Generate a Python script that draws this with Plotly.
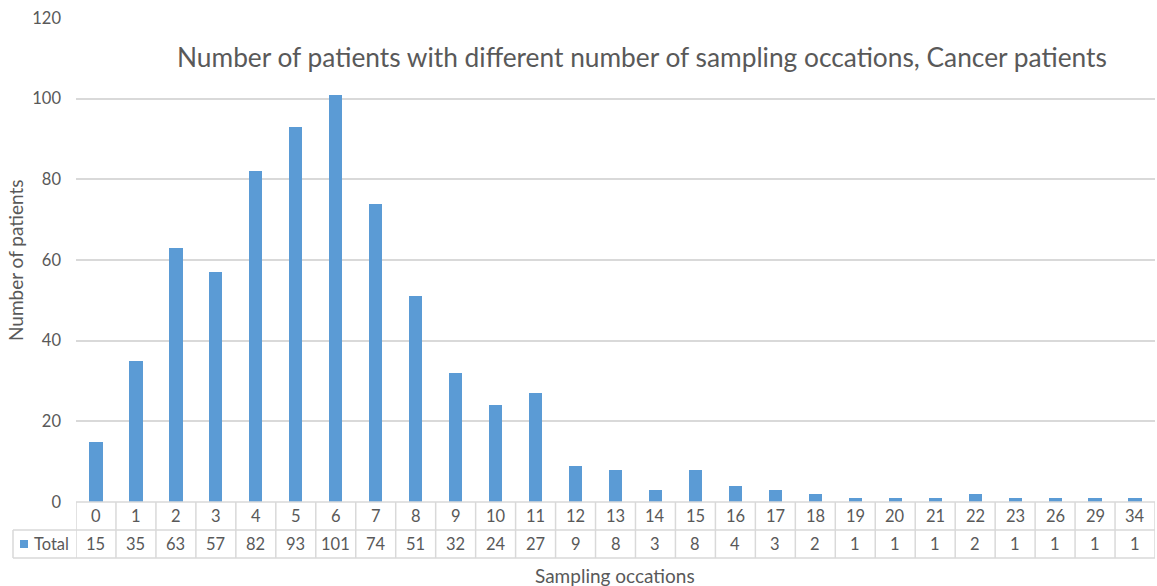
import plotly.graph_objects as go

categories = ["0", "1", "2", "3", "4", "5", "6", "7", "8", "9", "10", "11", "12", "13",
              "14", "15", "16", "17", "18", "19", "20", "21", "22", "23", "26", "29", "34"]
totals = [15, 35, 63, 57, 82, 93, 101, 74, 51, 32, 24, 27, 9, 8, 3, 8, 4, 3, 2, 1, 1, 1, 2, 1, 1, 1, 1]
y_ticks = [0, 20, 40, 60, 80, 100, 120]

title_text = "Number of patients with different number of sampling occations, Cancer patients"
series_name = "Total"
x_title = "Sampling occations"
y_title = "Number of patients"

W, H = 1157, 586
ML, MR, MT, MB = 76, 2, 18, 84
PW = W - ML - MR
PH = H - MT - MB

BAR = "#5b9bd5"
GRID = "#d9d9d9"
TXT = "#595959"
FONT = "Lato"

def py(px):  # pixel y (from top) -> paper y
    return (H - MB - px) / PH

def pxx(px):  # pixel x -> paper x
    return (px - ML) / PW

idx = list(range(len(categories)))

fig = go.Figure()
fig.add_trace(go.Bar(x=idx, y=totals, width=0.33, marker=dict(color=BAR, line=dict(width=0)),
                     name=series_name, showlegend=False, hoverinfo="skip"))

shapes = []
annotations = []
n = len(categories)
row1_top, row1_bot, row2_bot = py(502), py(530), py(558)
for yy in [row1_top, row1_bot, row2_bot]:
    shapes.append(dict(type="line", xref="x", yref="paper", x0=-0.5, x1=n - 0.5, y0=yy, y1=yy,
                       line=dict(color=GRID, width=1.5)))
shapes.append(dict(type="line", xref="paper", yref="paper", x0=pxx(13), x1=0, y0=row1_bot, y1=row1_bot,
                   line=dict(color=GRID, width=1.5)))
shapes.append(dict(type="line", xref="paper", yref="paper", x0=pxx(13), x1=0, y0=row2_bot, y1=row2_bot,
                   line=dict(color=GRID, width=1.5)))
shapes.append(dict(type="line", xref="paper", yref="paper", x0=pxx(13), x1=pxx(13), y0=row1_bot, y1=row2_bot,
                   line=dict(color=GRID, width=1.5)))
for i in range(n + 1):
    shapes.append(dict(type="line", xref="x", yref="paper", x0=i - 0.5, x1=i - 0.5, y0=row1_top, y1=row2_bot,
                       line=dict(color=GRID, width=1.5)))
shapes.append(dict(type="rect", xref="paper", yref="paper", x0=pxx(20), x1=pxx(28), y0=py(540), y1=py(548),
                   fillcolor=BAR, line=dict(width=0)))

def ann(x, y, text, size, xref="paper", xanchor="center", angle=0):
    return dict(x=x, y=y, xref=xref, yref="paper", text=text, showarrow=False,
                xanchor=xanchor, yanchor="middle", textangle=angle,
                font=dict(family=FONT, size=size, color=TXT))

for i, (c, v) in enumerate(zip(categories, totals)):
    annotations.append(ann(i, py(516), c, 16.5, xref="x"))
    annotations.append(ann(i, py(544), str(v), 16.5, xref="x"))
annotations.append(ann(pxx(32), py(544), series_name, 16.5, xanchor="left"))
annotations.append(ann(pxx(615), py(575), x_title, 19))
annotations.append(ann(pxx(15), py(260), y_title, 19, angle=-90))
annotations.append(ann(pxx(642), py(57), title_text, 26.3))

fig.update_layout(
    width=W, height=H,
    margin=dict(l=ML, r=MR, t=MT, b=MB),
    paper_bgcolor="white", plot_bgcolor="white",
    shapes=shapes, annotations=annotations,
    xaxis=dict(range=[-0.5, n - 0.5], showticklabels=False, showgrid=False, zeroline=False,
               showline=False, ticks=""),
    yaxis=dict(range=[0, 120], tickvals=y_ticks, showgrid=True, gridcolor=GRID, gridwidth=1.5,
               zeroline=False, showline=False, ticks="", ticklabelstandoff=14,
               tickfont=dict(family=FONT, size=16.5, color=TXT)),
    bargap=0,
)

fig.write_html("out.html", config={"displayModeBar": False},
               post_script="document.body.style.margin='0';document.body.style.overflow='hidden';")
